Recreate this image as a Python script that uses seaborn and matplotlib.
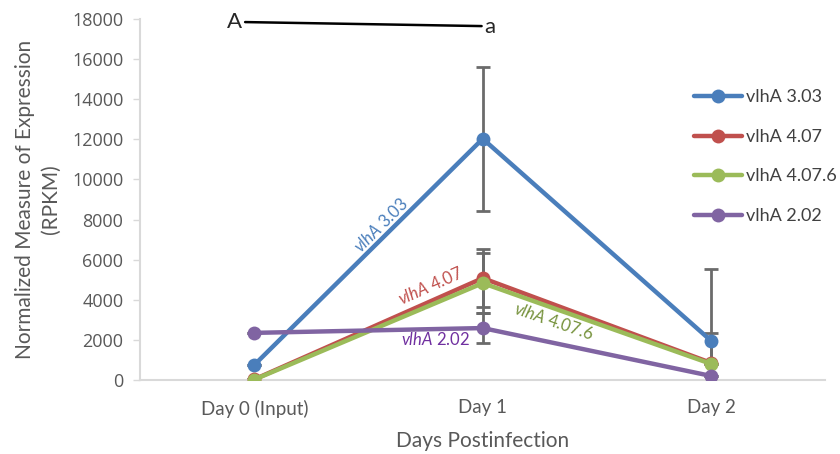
import numpy as np
import pandas as pd
import seaborn as sns
import matplotlib.pyplot as plt

days = ['Day 0 (Input)', 'Day 1', 'Day 2']
genes = ['vlhA 3.03', 'vlhA 4.07', 'vlhA 4.07.6', 'vlhA 2.02']
rpkm_303 = [750, 12030, 1950]
rpkm_407 = [30, 5080, 850]
rpkm_4076 = [20, 4830, 800]
rpkm_202 = [2350, 2590, 200]
err_303 = [0, 3590, 3580]
err_407 = [0, 1450, 1500]
err_4076 = [0, 1490, 0]
err_202 = [0, 730, 0]
colors = ['#4a7ebb', '#c0504d', '#9bbb59', '#8064a2']

sns.set_style('white')
plt.rcParams['font.family'] = ['Lato', 'DejaVu Sans']
plt.rcParams['mathtext.fontset'] = 'custom'
plt.rcParams['mathtext.it'] = 'Lato:italic'
plt.rcParams['mathtext.rm'] = 'Lato'

vals = [rpkm_303, rpkm_407, rpkm_4076, rpkm_202]
errs = [err_303, err_407, err_4076, err_202]
df = pd.DataFrame({
    'day': np.tile(np.arange(len(days)), len(genes)),
    'rpkm': np.concatenate(vals),
    'gene': np.repeat(genes, len(days)),
})

fig = plt.figure(figsize=(8.4, 4.54), dpi=100)
ax = fig.add_axes([0.1667, 0.163, 0.816, 0.795])

# error bars sit under the lines
for v, e in zip(vals, errs):
    ax.errorbar(np.arange(len(days)), v, yerr=e, fmt='none', ecolor='#6b6b6b',
                elinewidth=2, capsize=5, capthick=2, zorder=1)

sns.lineplot(data=df, x='day', y='rpkm', hue='gene', hue_order=genes,
             palette=dict(zip(genes, colors)), marker='o', markersize=10,
             markeredgewidth=0, linewidth=3.2, ax=ax, zorder=3)

ax.set_xlim(-0.5, 2.5)
ax.set_ylim(0, 18000)
ax.set_yticks(np.arange(0, 18001, 2000))
ax.set_xticks(range(len(days)))
ax.set_xticklabels(days)
ax.tick_params(axis='x', length=0, pad=14, labelsize=13.5, labelcolor='#595959')
ax.tick_params(axis='y', length=5, width=1, color='#d9d9d9', direction='out',
               pad=7, labelsize=13, labelcolor='#595959', left=True)
for t in ax.get_yticklabels():
    t.set_fontfamily('Open Sans')
for s in ['top', 'right']:
    ax.spines[s].set_visible(False)
for s in ['left', 'bottom']:
    ax.spines[s].set_color('#d9d9d9')
    ax.spines[s].set_linewidth(1.5)
ax.set_xlabel('Days Postinfection', fontsize=15, color='#595959', labelpad=10)
ax.set_ylabel('Normalized Measure of Expression\n(RPKM)', fontsize=15,
              color='#595959', labelpad=8, linespacing=1.35)

leg = ax.legend(loc='upper right', bbox_to_anchor=(1.04, 0.85), frameon=False,
                fontsize=13, handlelength=2.7, labelspacing=1.3,
                handletextpad=0.2)
for t in leg.get_texts():
    t.set_color('#404040')

# inline labels
ax.text(0.555, 7700, r'$\it{vlhA}$ 3.03', color=colors[0], fontsize=12,
        rotation=45, ha='center', va='center')
ax.text(0.77, 4680, r'$\it{vlhA}$ 4.07', color=colors[1], fontsize=12,
        rotation=24, ha='center', va='center')
ax.text(1.31, 2900, r'$\it{vlhA}$ 4.07.6', color='#76923c', fontsize=12,
        rotation=-19, ha='center', va='center')
ax.text(0.795, 2040, r'$\it{vlhA}$ 2.02', color='#7030a0', fontsize=12,
        ha='center', va='center')

# significance marks
ax.plot([-0.04, 0.995], [17850, 17650], color='black', linewidth=1.8,
        clip_on=False)
ax.text(-0.085, 17870, 'A', fontsize=16, ha='center', va='center')
ax.text(1.03, 17600, 'a', fontsize=16, ha='center', va='center')

fig.savefig('out.png', dpi=100)
